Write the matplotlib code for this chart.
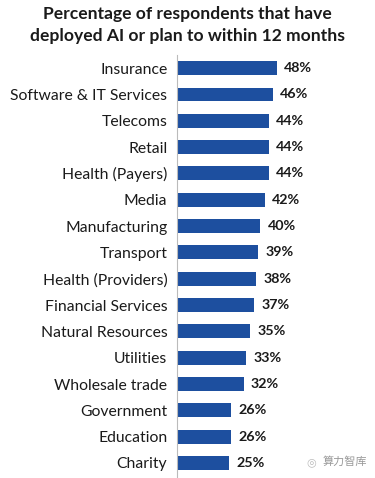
import matplotlib
matplotlib.use("Agg")
import matplotlib.pyplot as plt

# data
sectors = ["Insurance", "Software & IT Services", "Telecoms", "Retail",
           "Health (Payers)", "Media", "Manufacturing", "Transport",
           "Health (Providers)", "Financial Services", "Natural Resources",
           "Utilities", "Wholesale trade", "Government", "Education", "Charity"]
pct = [48, 46, 44, 44, 44, 42, 40, 39, 38, 37, 35, 33, 32, 26, 26, 25]

plt.rcParams['font.family'] = ['Lato', 'Noto Sans CJK SC', 'DejaVu Sans']

fig = plt.figure(figsize=(3.75, 4.78), dpi=100)
ax = fig.add_axes([177 / 375, 0.0, 198 / 375, (478 - 55) / 478])

ypos = list(range(len(sectors)))
ax.barh(ypos, pct, height=0.53, color="#1d4f9f")
for y, v in zip(ypos, pct):
    ax.text(v + 3.5, y, f"{v}%", va="center", ha="left",
            fontsize=10.3, fontweight="bold", color="#1a1a1a")

ax.set_yticks(ypos)
ax.set_yticklabels(sectors, fontsize=11.3, color="#1a1a1a")
ax.tick_params(axis="y", length=0, pad=7)
ax.set_xticks([])
ax.set_xlim(0, 95)
ax.set_ylim(15.57, -0.5)
for s in ["top", "right", "bottom"]:
    ax.spines[s].set_visible(False)
ax.spines["left"].set_color("#bbbbbb")
ax.spines["left"].set_linewidth(0.8)

fig.text(0.5, 1 - 14 / 478, "Percentage of respondents that have",
         ha="center", va="center", fontsize=12.6, fontweight="bold", color="#1a1a1a")
fig.text(0.5, 1 - 36 / 478, "deployed AI or plan to within 12 months",
         ha="center", va="center", fontsize=12.6, fontweight="bold", color="#1a1a1a")

# watermark
fig.text(323 / 375, 1 - 462 / 478, "算力智库", ha="left", va="center",
         fontsize=8, color="#999999", family=['Noto Sans CJK SC', 'DejaVu Sans'])
fig.text(306 / 375, 1 - 462 / 478, "◎", ha="left", va="center",
         fontsize=8, color="#bbbbbb", family=['DejaVu Sans'])

fig.savefig("out.png", dpi=100)
